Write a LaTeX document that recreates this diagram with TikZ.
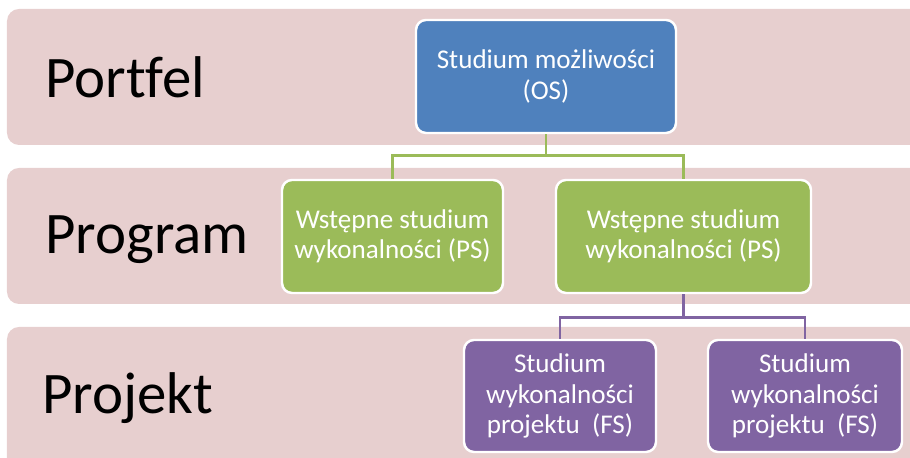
\documentclass[tikz,border=0pt]{standalone}
\usepackage{fontspec}
\setmainfont{Carlito}[Ligatures=NoCommon]
\usetikzlibrary{positioning}
\definecolor{bandpink}{HTML}{E7CFCF}
\definecolor{osblue}{HTML}{4F81BD}
\definecolor{psgreen}{HTML}{9BBB59}
\definecolor{fspurple}{HTML}{8064A2}

\begin{document}
\begin{tikzpicture}[
  band/.style={fill=bandpink, rounded corners=0.24cm},
  level/.style={anchor=base west, inner sep=0pt, font=\fontsize{33.5}{40}\selectfont},
  box/.style={draw=white, line width=1.4pt, rounded corners=0.2cm, text=white,
    align=center, inner sep=0pt, minimum height=2.26cm,
    font=\fontsize{15.4}{17.2}\selectfont},
  link/.style={line width=1.5pt}
]
\useasboundingbox (0,0) rectangle (18.2,9.16);
\clip (0,0) rectangle (18.2,9.16);

\fill[band] (0.14,6.26) rectangle (18.6,8.98);
\fill[band] (0.14,3.08) rectangle (18.6,5.80);
\fill[band] (0.14,-0.4) rectangle (18.6,2.62);

\node[level] (portfel) at (0.9,7.20) {Portfel};
\node[level] (program) at (0.9,4.08) {Program};
\node[level] (projekt) at (0.84,0.88) {Projekt};

\node[box, fill=osblue, minimum width=5.2cm] (os) at (10.92,7.63)
  {Studium możliwości\\(OS)};
\node[box, fill=psgreen, minimum width=4.42cm] (psa) at (7.85,4.43)
  {Wstępne studium\\wykonalności (PS)};
\node[box, fill=psgreen, minimum width=5.1cm] (psb) at (13.67,4.43)
  {Wstępne studium\\wykonalności (PS)};
\node[box, fill=fspurple, minimum width=3.84cm, minimum height=2.24cm] (fsa) at (11.2,1.24)
  {Studium\\wykonalności\\projektu~ (FS)};
\node[box, fill=fspurple, minimum width=3.88cm, minimum height=2.24cm] (fsb) at (16.1,1.24)
  {Studium\\wykonalności\\projektu~ (FS)};

\draw[link, psgreen] (os.south) -- ++(0,-0.42) coordinate (osjoin);
\draw[link, psgreen] (osjoin) -| (psa.north);
\draw[link, psgreen] (osjoin) -| (psb.north);
\draw[link, fspurple] (psb.south) -- ++(0,-0.46) coordinate (psjoin);
\draw[link, fspurple] (psjoin) -| (fsa.north);
\draw[link, fspurple] (psjoin) -| (fsb.north);
\end{tikzpicture}
\end{document}
